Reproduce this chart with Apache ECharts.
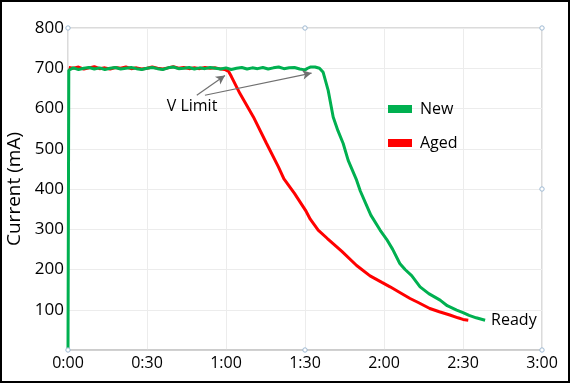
<!DOCTYPE html>
<html><head><meta charset="utf-8">
<script src="https://cdn.jsdelivr.net/npm/echarts@6/dist/echarts.min.js"></script>
<style>html,body{margin:0;padding:0;background:#fff}#c{width:570px;height:383px}</style>
</head><body><div id="c"></div>
<script>
// ---- data ----
var xTicks = ['0:00','0:30','1:00','1:30','2:00','2:30','3:00'];
var yTicks = [100,200,300,400,500,600,700,800];
var newT = [0,0.3,1,2,4,6,8,10,12,14,16,18,20,22,24,26,28,30,32,34,36,38,40,42,44,46,48,50,52,54,56,58,60,62,64,66,68,70,72,74,76,78,80,82,84,86,88,90,91,92,93.8,95.5,96.9,98.8,100.7,102.5,104.5,106.4,109.6,111,113,115,118.5,121,123.3,126,128,130.5,133.7,137,141.3,144,147.6,150,152.3,155,158.4];
var newV = [0,695,698,701,697,700,702,698,701,697,700,702,698,700,702,699,697,700,702,699,697,701,703,699,700,702,698,701,699,702,700,698,701,697,700,702,698,701,699,702,698,701,703,699,701,702,698,696,700,703,703,700,690,645,579,545,513,471,422,395,365,335,298,275,250,215,200,185,157,140,124,110,99,93,86,80,74];
var agedT = [0.3,2,4,6,8,10,12,14,16,18,20,22,24,26,28,30,32,34,36,38,40,42,44,46,48,50,52,54,56,57.5,59.5,61,62,65.3,70.4,75.4,79.9,82,86,90.2,92,95,98.5,104,109.6,114.7,119.2,122.3,126,129.9,133,137.4,141,145,148.1,150,152];
var agedV = [702,700,703,698,701,704,699,701,698,702,700,703,699,701,698,700,703,700,698,701,704,700,702,699,701,699,702,700,701,699,697,692,680,637,579,513,455,425,389,347,325,298,277,245,210,184,168,157,143,128,118,103,95,87,80,76,74];
var annotText = 'V Limit';
var annotPos = [47.1, 605];
var arrows = [[[48.9,633],[59.6,682]],[[52,633],[92.5,688]]];
var endText = 'Ready';

function zip(a,b){return a.map(function(v,i){return [v,b[i]];});}

var chart = echarts.init(document.getElementById('c'));
var FONT = 'Open Sans';
var TXT = '#000';
chart.setOption({
  animation:false,
  textStyle:{fontFamily:FONT},
  grid:{left:68,right:28,top:28,bottom:33,show:true,borderColor:'#cfcfcf',borderWidth:1.5,backgroundColor:'transparent',containLabel:false,outerBoundsMode:'none'},
  legend:{
    orient:'vertical',left:383,top:96,itemWidth:24,itemHeight:8,itemGap:18,
    icon:'rect',
    textStyle:{fontFamily:FONT,fontSize:16,color:TXT,padding:[0,0,0,3]},
    data:['New','Aged']
  },
  xAxis:{
    type:'value',min:0,max:180,interval:30,
    axisLine:{show:true,lineStyle:{color:'#c8c8c8',width:1.5}},
    axisTick:{show:false},
    axisLabel:{fontFamily:FONT,fontSize:16,color:TXT,margin:5,formatter:function(v){return xTicks[Math.round(v/30)];}},
    splitLine:{show:true,lineStyle:{color:'#ececec',width:1}}
  },
  yAxis:{
    type:'value',min:0,max:800,interval:100,
    name:'Current (mA)',nameLocation:'middle',nameGap:40,
    nameTextStyle:{fontFamily:FONT,fontSize:19,color:TXT},
    axisLine:{show:false},axisTick:{show:false},
    axisLabel:{fontFamily:FONT,fontSize:17,color:TXT,margin:4,formatter:function(v){return yTicks.indexOf(v)>=0?String(v):'';}},
    splitLine:{show:true,lineStyle:{color:'#ececec',width:1}}
  },
  series:[
    {name:'Aged',type:'line',data:zip(agedT,agedV),showSymbol:false,symbol:'none',
     lineStyle:{color:'#ff0000',width:3},itemStyle:{color:'#ff0000'},z:2,
     markLine:{silent:true,symbol:['none','arrow'],symbolSize:[7,9],
       lineStyle:{color:'#707070',width:1.2,type:'solid'},label:{show:false},
       data:arrows.map(function(a){return [{coord:a[0]},{coord:a[1]}];})},
     markPoint:{silent:true,symbol:'circle',symbolSize:0,
       data:[{coord:annotPos,label:{show:true,position:'inside',formatter:annotText,fontFamily:FONT,fontSize:16,color:TXT}}]}
    },
    {name:'New',type:'line',data:zip(newT,newV),showSymbol:false,symbol:'none',
     lineStyle:{color:'#00b050',width:3},itemStyle:{color:'#00b050'},z:3,
     endLabel:{show:true,formatter:endText,fontFamily:FONT,fontSize:16,color:TXT,distance:6}
    }
  ]
});

// decorative frame and selection handles
var handlePts = [[0,800],[90,800],[180,800],[180,400],[180,0],[90,0],[0,0]];
var g = [{type:'rect',shape:{x:1,y:1,width:568,height:381},style:{fill:'none',stroke:'#000',lineWidth:2},silent:true,z:100}];
handlePts.forEach(function(p){
  var px = chart.convertToPixel({gridIndex:0},p);
  g.push({type:'circle',shape:{cx:px[0],cy:px[1],r:2.2},style:{fill:'#fff',stroke:'#9db8d2',lineWidth:1},silent:true,z:100});
});
chart.setOption({graphic:g});
</script></body></html>
